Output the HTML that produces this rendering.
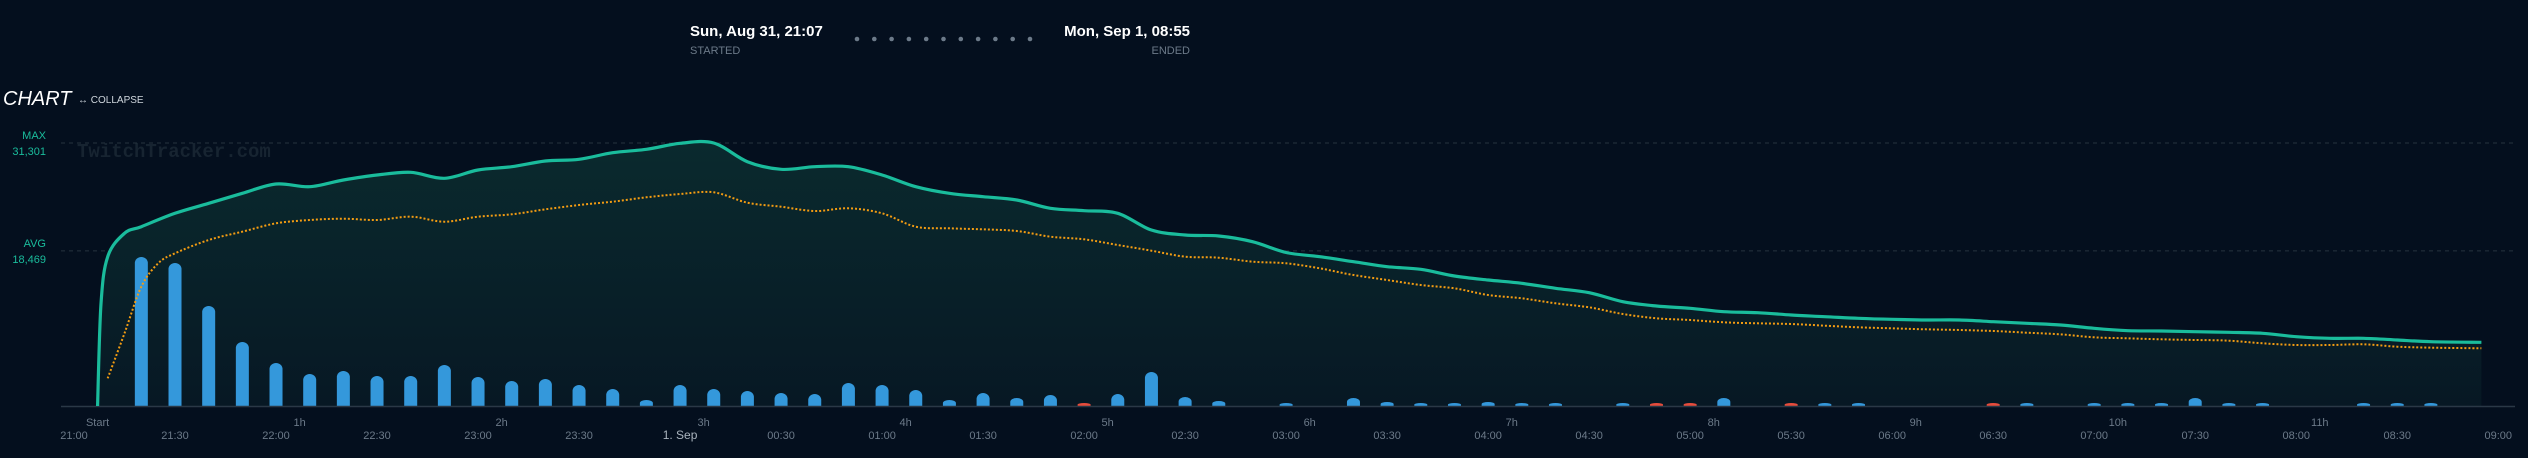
<!DOCTYPE html>
<html><head><meta charset="utf-8"><style>
html,body{margin:0;padding:0;background:#040f1e;width:2528px;height:458px;overflow:hidden;font-family:"Liberation Sans",sans-serif}
</style></head><body>
<svg id="chart" width="2528" height="458" xmlns="http://www.w3.org/2000/svg">
<defs><linearGradient id="fillg" x1="0" y1="0" x2="0" y2="1"><stop offset="0" stop-color="#0a2a2e"/><stop offset="1" stop-color="#071824"/></linearGradient></defs>
<g>
<text x="690" y="36" fill="#fff" font-size="15" font-weight="bold">Sun, Aug 31, 21:07</text>
<text x="690" y="54" fill="#6c7a89" font-size="11">STARTED</text>
<text x="1190" y="36" fill="#fff" font-size="15" font-weight="bold" text-anchor="end">Mon, Sep 1, 08:55</text>
<text x="1190" y="54" fill="#6c7a89" font-size="11" text-anchor="end">ENDED</text>
<g id="dots"></g>
<text x="3" y="105" fill="#fff" font-size="20" font-style="italic">CHART</text>
<text x="78" y="103" fill="#cfd6dd" font-size="10">↔ COLLAPSE</text>
</g>
<text x="77" y="157" fill="#172431" font-size="19" font-weight="bold" font-family="Liberation Mono, monospace">TwitchTracker.com</text>
<g id="plot"></g>
</svg>
<script>
const startMin = 7, endMin = 715;
const viewerTimes = [7,8,10,15,20,30,40,50,60,70,80,90,100,110,120,130,140,150,160,170,180,190,200,210,220,230,240,250,260,270,280,290,300,310,320,330,340,350,360,370,380,390,400,410,420,430,440,450,460,470,480,490,500,510,520,530,540,550,560,570,580,590,600,610,620,630,640,650,660,670,680,690,700,715];
const viewers = [0,12000,17774,20551,21344,22931,24121,25311,26422,26105,26898,27493,27811,27097,28089,28485,29160,29358,30152,30548,31262,31301,29080,28168,28485,28485,27493,26105,25311,24915,24518,23526,23248,22931,20947,20352,20233,19559,18270,17774,17179,16583,16266,15473,14997,14600,14005,13489,12418,11902,11624,11227,11108,10831,10632,10434,10315,10236,10236,10037,9839,9640,9244,8966,8926,8847,8768,8649,8252,8054,8054,7855,7657,7578];
const avgTimes = [10,15,20,25,30,40,50,60,70,80,90,100,110,120,130,140,150,160,170,180,190,200,210,220,230,240,250,260,270,280,290,300,310,320,330,340,350,360,370,380,390,400,410,420,430,440,450,460,470,480,490,500,510,520,530,540,550,560,570,580,590,600,610,620,630,640,650,660,670,680,690,700,715];
const avgViewers = [3293,8649,14203,16980,18170,19757,20749,21741,22138,22296,22138,22534,21939,22534,22812,23407,23923,24320,24835,25232,25430,24201,23725,23209,23526,22931,21344,21146,21027,20828,20154,19836,19162,18488,17774,17655,17179,16980,16385,15592,14997,14401,14005,13211,12814,12219,11743,10950,10434,10236,9958,9839,9760,9561,9363,9244,9125,9045,8926,8728,8530,8173,8054,7935,7855,7776,7459,7260,7260,7340,7062,6943,6863];
const barTimes = [20,30,40,50,60,70,80,90,100,110,120,130,140,150,160,170,180,190,200,210,220,230,240,250,260,270,280,290,300,310,320,330,340,360,380,390,400,410,420,430,440,460,470,480,490,510,520,530,570,580,600,610,620,630,640,650,680,690,700];
const barValues = [149,143,100,64,43,32,35,30,30,41,29,25,27,21,17,6,21,17,15,13,12,23,21,16,6,13,8,11,-1,12,34,9,5,2,8,4,1,1,4,2,1,2,-2,-2,8,-2,3,2,-2,2,2,2,2,8,1,3,2,2,2];
const tickHours = ["Start","1h","2h","3h","4h","5h","6h","7h","8h","9h","10h","11h"];
const tickClock = ["21:00","21:30","22:00","22:30","23:00","23:30","1. Sep","00:30","01:00","01:30","02:00","02:30","03:00","03:30","04:00","04:30","05:00","05:30","06:00","06:30","07:00","07:30","08:00","08:30","09:00"];
const maxVal = 31301, avgVal = 18469;

const NS="http://www.w3.org/2000/svg";
const X0=74, PXMIN=3.367, Y0=406, KY=0.008402, KB=1.0;
const x=t=>X0+t*PXMIN, y=v=>Y0-v*KY;
const plot=document.getElementById('plot');
function mk(tag,attrs,parent){const e=document.createElementNS(NS,tag);for(const k in attrs)e.setAttribute(k,attrs[k]);(parent||plot).appendChild(e);return e;}
function smooth(pts){let d=`M${pts[0][0]},${pts[0][1]}`;for(let i=0;i<pts.length-1;i++){const p0=pts[Math.max(i-1,0)],p1=pts[i],p2=pts[i+1],p3=pts[Math.min(i+2,pts.length-1)];const c1=[p1[0]+(p2[0]-p0[0])/6,p1[1]+(p2[1]-p0[1])/6],c2=[p2[0]-(p3[0]-p1[0])/6,p2[1]-(p3[1]-p1[1])/6];d+=` C${c1[0].toFixed(1)},${c1[1].toFixed(1)} ${c2[0].toFixed(1)},${c2[1].toFixed(1)} ${p2[0].toFixed(1)},${p2[1].toFixed(1)}`;}return d;}

// dots
const dg=document.getElementById('dots');
for(let i=0;i<11;i++){const c=mk('circle',{cx:857+i*17.3,cy:39,r:2.3,fill:'#6c7a89'},dg);

}

// reference lines
[[maxVal,'MAX','max'],[avgVal,'AVG','avg']].forEach(([v,lab,n])=>{
const l=mk('line',{x1:61,x2:2515,y1:y(v),y2:y(v),stroke:'#26333f','stroke-dasharray':'4 4','stroke-width':1});


const t1=mk('text',{x:46,y:y(v)-4,fill:'#1abc9c','font-size':11,'text-anchor':'end'});t1.textContent=lab;


const t2=mk('text',{x:46,y:y(v)+12,fill:'#1abc9c','font-size':11,'text-anchor':'end'});t2.textContent=v.toLocaleString('en-US');


});

// area + viewer line
const vp=viewerTimes.map((t,i)=>[x(t),y(viewers[i])]);
const ld=smooth(vp);
const area=mk('path',{d:ld+` L${x(endMin)},${Y0} L${x(startMin)},${Y0} Z`,fill:'url(#fillg)'});



// bars
barTimes.forEach((t,i)=>{const v=barValues[i],h=Math.max(Math.abs(v)*KB,3),bx=x(t)-6.5;
const r=mk('path',{d:`M${bx},${Y0} L${bx},${Y0-h+Math.min(6,h/2)} A6.5,${Math.min(6,h/2)} 0 0 1 ${bx+13},${Y0-h+Math.min(6,h/2)} L${bx+13},${Y0} Z`,fill:v<0?'#e74c3c':'#3498db'});

});

const axis=mk('line',{x1:61,x2:2515,y1:Y0+0.5,y2:Y0+0.5,stroke:'#2a3846','stroke-width':1.5});



const vl=mk('path',{d:ld,fill:'none',stroke:'#1abc9c','stroke-width':3.2});


const al=mk('path',{d:smooth(avgTimes.map((t,i)=>[x(t),y(avgViewers[i])])),fill:'none',stroke:'#f39c12','stroke-width':2,'stroke-dasharray':'2 2'});



// ticks
tickHours.forEach((s,i)=>{const t=mk('text',{x:x(startMin+60*i),y:426,fill:'#6c7a89','font-size':11,'text-anchor':'middle'});t.textContent=s;

});
tickClock.forEach((s,i)=>{const t=mk('text',{x:x(30*i),y:439,fill:s==='1. Sep'?'#aab4be':'#6c7a89','font-size':s==='1. Sep'?12:11,'text-anchor':'middle'});t.textContent=s;

});
</script>
</body></html>
